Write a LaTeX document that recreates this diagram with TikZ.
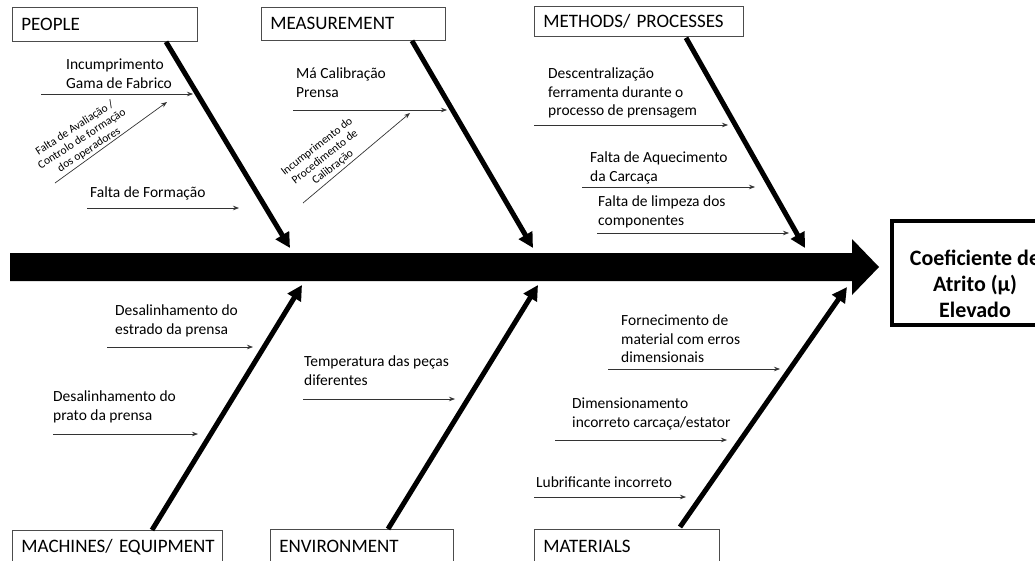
\documentclass[tikz,border=0pt]{standalone}
\usepackage{fontspec}
\setmainfont{Carlito}
\usetikzlibrary{arrows.meta}

\begin{document}
\begin{tikzpicture}[x=1pt,y=-1pt,
  catbox/.style={draw=black!70, line width=0.8pt, anchor=north west,
    inner xsep=9pt, inner ysep=0pt, align=left,
    font=\fontsize{19}{22}\selectfont},
  cause/.style={anchor=north west, inner sep=0pt, align=left,
    font=\fontsize{15.5}{18.5}\selectfont},
  subcause/.style={inner sep=0pt, align=center,
    font=\fontsize{11.5}{13}\selectfont},
  bone/.style={line width=5pt, -{Triangle[length=15pt,width=15pt]}},
  twig/.style={line width=0.7pt, draw=black!80, -{Stealth[length=6pt,width=4.5pt]}}
]
\useasboundingbox (0,0) rectangle (1035,560);
\clip (0,0) rectangle (1035,560);

% spine with its arrowhead
\coordinate (spineTail) at (10,267);
\coordinate (spineTip) at (879,267);
\fill (spineTail) ++(0,-14) -- (852,253) -- (852,239) -- (spineTip)
  -- (852,295) -- (852,281) -- (10,281) -- cycle;

% effect
\node[draw, line width=4pt, anchor=north west, minimum width=220pt,
  minimum height=104pt, inner sep=0pt] (effectBox) at (890,219) {};
\node[align=center, inner sep=0pt,
  font=\fontsize{22}{26}\selectfont\bfseries] (effectText) at (975,284)
  {Coeficiente de\\Atrito (µ)\\Elevado};

% category boxes
\node[catbox, text width=167pt, minimum height=34pt] (people) at (12,7) {PEOPLE};
\node[catbox, text width=166pt, minimum height=33pt] (measure) at (261,7) {MEASUREMENT};
\node[catbox, text width=191pt, minimum height=30pt] (methods) at (534,6) {METHODS/ PROCESSES};
\node[catbox, text width=192pt, minimum height=34pt] (machines) at (12,530) {\mbox{MACHINES/ EQUIPMENT}};
\node[catbox, text width=165pt, minimum height=34pt] (environ) at (270,529) {ENVIRONMENT};
\node[catbox, text width=167pt, minimum height=34pt] (materials) at (534,529) {MATERIALS};

% bones
\coordinate (peopleTip) at (290,248);
\coordinate (measureTip) at (533,248);
\coordinate (methodsTip) at (805,248);
\coordinate (machinesTip) at (302,285);
\coordinate (environTip) at (538,285);
\coordinate (materialsTip) at (847,287);
\draw[bone] (people.south west -| 166,0) -- (peopleTip);
\draw[bone] (measure.south west -| 412,0) -- (measureTip);
\draw[bone] (methods.south west -| 686,0) ++(0,1) -- (methodsTip);
\draw[bone] (machines.north west -| 152,0) -- (machinesTip);
\draw[bone] (environ.north west -| 388,0) -- (environTip);
\draw[bone] (materials.north west -| 680,0) ++(0,-2) -- (materialsTip);

% PEOPLE causes
\node[cause] (c1) at (66,59) {Incumprimento\\Gama de Fabrico};
\coordinate (c1s) at (41,94); \coordinate (c1e) at (193,94);
\draw[twig] (c1s) -- (c1e);
\node[subcause, rotate=33] (c2) at (82,139)
  {Falta de Avaliação /\\Controlo de formação\\dos operadores};
\coordinate (c2s) at (55,183); \coordinate (c2e) at (167,102);
\draw[twig] (c2s) -- (c2e);
\node[cause] (c3) at (90,187) {Falta de Formação};
\coordinate (c3s) at (87,208); \coordinate (c3e) at (239,208);
\draw[twig] (c3s) -- (c3e);

% MEASUREMENT causes
\node[cause] (c4) at (296,68) {Má Calibração\\Prensa};
\coordinate (c4s) at (293,110); \coordinate (c4e) at (447,110);
\draw[twig] (c4s) -- (c4e);
\node[subcause, rotate=38] (c5) at (325,157)
  {Incumprimento do\\Procedimento de\\Calibração};
\coordinate (c5s) at (303,203); \coordinate (c5e) at (410,113);
\draw[twig] (c5s) -- (c5e);

% METHODS causes
\node[cause] (c6) at (548,68)
  {Descentralização\\ferramenta durante o\\processo de prensagem};
\coordinate (c6s) at (534,125); \coordinate (c6e) at (728,125);
\draw[twig] (c6s) -- (c6e);
\node[cause] (c7) at (590,152) {Falta de Aquecimento\\da Carcaça};
\coordinate (c7s) at (582,187); \coordinate (c7e) at (755,187);
\draw[twig] (c7s) -- (c7e);
\node[cause] (c8) at (598,196) {Falta de limpeza dos\\componentes};
\coordinate (c8s) at (597,233); \coordinate (c8e) at (789,233);
\draw[twig] (c8s) -- (c8e);

% MACHINES causes
\node[cause] (c9) at (115,305) {Desalinhamento do\\estrado da prensa};
\coordinate (c9s) at (107,347); \coordinate (c9e) at (253,347);
\draw[twig] (c9s) -- (c9e);
\node[cause] (c10) at (53,391) {Desalinhamento do\\prato da prensa};
\coordinate (c10s) at (53,434); \coordinate (c10e) at (198,434);
\draw[twig] (c10s) -- (c10e);

% ENVIRONMENT causes
\node[cause] (c11) at (304,356) {Temperatura das peças\\diferentes};
\coordinate (c11s) at (303,399); \coordinate (c11e) at (455,399);
\draw[twig] (c11s) -- (c11e);

% MATERIALS causes
\node[cause] (c12) at (621,315)
  {Fornecimento de\\material com erros\\dimensionais};
\coordinate (c12s) at (608,369); \coordinate (c12e) at (780,369);
\draw[twig] (c12s) -- (c12e);
\node[cause] (c13) at (572,398) {Dimensionamento\\incorreto carcaça/estator};
\coordinate (c13s) at (555,440); \coordinate (c13e) at (727,440);
\draw[twig] (c13s) -- (c13e);
\node[cause] (c14) at (536,477) {Lubrificante incorreto};
\coordinate (c14s) at (534,497); \coordinate (c14e) at (686,497);
\draw[twig] (c14s) -- (c14e);
\end{tikzpicture}
\end{document}
